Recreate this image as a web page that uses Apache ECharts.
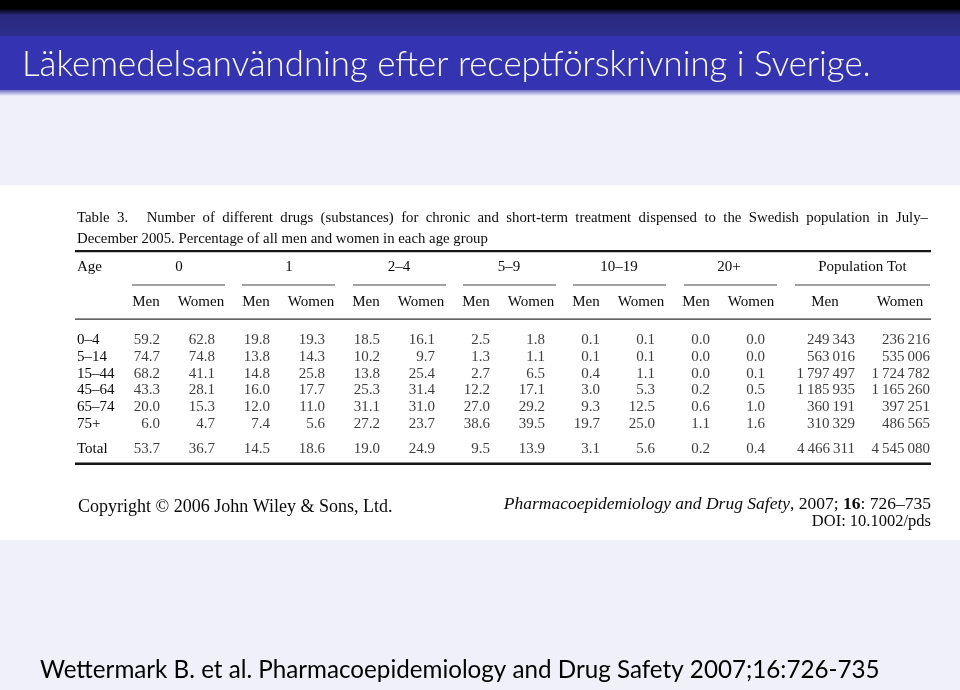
<!DOCTYPE html>
<html>
<head>
<meta charset="utf-8">
<script src="https://cdn.jsdelivr.net/npm/echarts@6/dist/echarts.min.js"></script>
<style>html,body{margin:0;padding:0;background:#f0f0fa}#c{width:960px;height:690px}</style>
</head>
<body>
<div id="c"></div>
<script>
// ---- data ----
const ageGroups = ['0', '1', '2–4', '5–9', '10–19', '20+'];
const sexLabels = ['Men', 'Women'];
const popGroup = ['Population Tot'];
const rowLabels = ['0–4', '5–14', '15–44', '45–64', '65–74', '75+'];
const totalLabel = ['Total'];
const row0_4   = [59.2, 62.8, 19.8, 19.3, 18.5, 16.1, 2.5, 1.8, 0.1, 0.1, 0.0, 0.0];
const row5_14  = [74.7, 74.8, 13.8, 14.3, 10.2, 9.7, 1.3, 1.1, 0.1, 0.1, 0.0, 0.0];
const row15_44 = [68.2, 41.1, 14.8, 25.8, 13.8, 25.4, 2.7, 6.5, 0.4, 1.1, 0.0, 0.1];
const row45_64 = [43.3, 28.1, 16.0, 17.7, 25.3, 31.4, 12.2, 17.1, 3.0, 5.3, 0.2, 0.5];
const row65_74 = [20.0, 15.3, 12.0, 11.0, 31.1, 31.0, 27.0, 29.2, 9.3, 12.5, 0.6, 1.0];
const row75p   = [6.0, 4.7, 7.4, 5.6, 27.2, 23.7, 38.6, 39.5, 19.7, 25.0, 1.1, 1.6];
const rowTotal = [53.7, 36.7, 14.5, 18.6, 19.0, 24.9, 9.5, 13.9, 3.1, 5.6, 0.2, 0.4];
const popMen   = [249343, 563016, 1797497, 1185935, 360191, 310329];
const popWomen = [236216, 535006, 1724782, 1165260, 397251, 486565];
const popTotal = [4466311, 4545080];

// ---- build ----
const pctRows = [row0_4, row5_14, row15_44, row45_64, row65_74, row75p];
const subCols = [];
ageGroups.forEach(() => { subCols.push(sexLabels[0], sexLabels[1]); });
const pctData = [];
pctRows.forEach((r, ri) => r.forEach((v, ci) => pctData.push([ci, ri, v])));
const totData = rowTotal.map((v, ci) => [ci, 0, v]);
const popData = [];
popMen.forEach((v, ri) => popData.push([0, ri, v]));
popWomen.forEach((v, ri) => popData.push([1, ri, v]));
const popTotData = popTotal.map((v, ci) => [ci, 0, v]);
const fmtPop = n => String(n).replace(/\B(?=(\d{3})+(?!\d))/g, '\u2009');

const SERIF = '"Liberation Serif", "DejaVu Serif", serif';
const SANS = 'Lato, "Open Sans", sans-serif';
const INK = '#0a0a0a';

const gA = {left: 118.5, width: 660, top: 331.6, height: 100.8};
const gB = {left: 787.5, width: 150, top: 331.6, height: 100.8};
const gC = {left: 118.5, width: 660, top: 440, height: 18};
const gD = {left: 787.5, width: 150, top: 440, height: 18};

const hidden = {axisLine: {show: false}, axisTick: {show: false}, splitLine: {show: false}};
const lblFont = {fontFamily: SERIF, fontSize: 15, color: INK};

function cellSeries(x, y, data, off, fmt) {
  return {
    type: 'scatter', xAxisIndex: x, yAxisIndex: y, data: data,
    symbolSize: 1, itemStyle: {color: 'rgba(0,0,0,0)'}, silent: true,
    label: {show: true, position: 'inside', align: 'right', verticalAlign: 'middle', offset: [off, 0],
      fontFamily: SERIF, fontSize: 15, color: INK,
      formatter: p => fmt(p.value[2])}
  };
}

const caption1 = 'Table  3.     Number  of  different  drugs  (substances)  for  chronic  and  short-term  treatment  dispensed  to  the  Swedish  population  in  July–';

const option = {
  backgroundColor: '#f0f0fa',
  animation: false,
  grid: [gA, gB, gC, gD],
  xAxis: [
    Object.assign({type: 'category', gridIndex: 0, position: 'top', data: subCols, boundaryGap: true,
      axisLabel: Object.assign({margin: 22, interval: 0}, lblFont)}, hidden),
    Object.assign({type: 'category', gridIndex: 0, position: 'top', offset: 35, data: ageGroups, boundaryGap: true,
      axisLabel: Object.assign({margin: 22, interval: 0, padding: [0, 0, 0, 11]}, lblFont)}, hidden),
    Object.assign({type: 'category', gridIndex: 1, position: 'top', data: sexLabels, boundaryGap: true,
      axisLabel: Object.assign({margin: 22, interval: 0}, lblFont)}, hidden),
    Object.assign({type: 'category', gridIndex: 1, position: 'top', offset: 35, data: popGroup, boundaryGap: true,
      axisLabel: Object.assign({margin: 22, interval: 0}, lblFont)}, hidden),
    Object.assign({type: 'category', gridIndex: 2, data: subCols, boundaryGap: true, axisLabel: {show: false}}, hidden),
    Object.assign({type: 'category', gridIndex: 3, data: sexLabels, boundaryGap: true, axisLabel: {show: false}}, hidden)
  ],
  yAxis: [
    Object.assign({type: 'category', gridIndex: 0, data: rowLabels, inverse: true, boundaryGap: true,
      axisLabel: Object.assign({margin: 41.5, align: 'left', interval: 0}, lblFont)}, hidden),
    Object.assign({type: 'category', gridIndex: 1, data: rowLabels, inverse: true, boundaryGap: true, axisLabel: {show: false}}, hidden),
    Object.assign({type: 'category', gridIndex: 2, data: totalLabel, inverse: true, boundaryGap: true,
      axisLabel: Object.assign({margin: 41.5, align: 'left', interval: 0}, lblFont)}, hidden),
    Object.assign({type: 'category', gridIndex: 3, data: totalLabel, inverse: true, boundaryGap: true, axisLabel: {show: false}}, hidden)
  ],
  series: [
    cellSeries(0, 0, pctData, 14, v => v.toFixed(1)),
    cellSeries(2, 1, popData, 30, fmtPop),
    cellSeries(4, 2, totData, 14, v => v.toFixed(1)),
    cellSeries(5, 3, popTotData, 30, fmtPop)
  ],
  graphic: [
    // title bar
    {type: 'rect', z: 0, shape: {x: 0, y: 0, width: 960, height: 36}, style: {fill: new echarts.graphic.LinearGradient(0, 0, 0, 1, [
      {offset: 0, color: '#000000'}, {offset: 0.24, color: '#000000'}, {offset: 0.42, color: '#29297f'}, {offset: 1, color: '#2e2e8e'}])}},
    {type: 'rect', z: 0, shape: {x: 0, y: 36, width: 960, height: 54}, style: {fill: '#3434b2'}},
    {type: 'rect', z: 0, shape: {x: 0, y: 90, width: 960, height: 6}, style: {fill: new echarts.graphic.LinearGradient(0, 0, 0, 1, [
      {offset: 0, color: '#7070cc'}, {offset: 1, color: '#f0f0fa'}])}},
    {type: 'text', z: 1, style: {x: 22, y: 65, text: 'Läkemedelsanvändning efter receptförskrivning i Sverige.', fill: '#ffffff',
      font: '300 34.8px ' + SANS, verticalAlign: 'middle'}},
    // table image background
    {type: 'rect', z: 0, shape: {x: 0, y: 185, width: 960, height: 355}, style: {fill: '#ffffff'}},
    // caption
    {type: 'text', z: 1, style: {x: 77, y: 218, text: caption1,
      fill: INK, font: '14.8px ' + SERIF, verticalAlign: 'middle'}},
    {type: 'text', z: 1, style: {x: 77, y: 239, text: 'December 2005. Percentage of all men and women in each age group',
      fill: INK, font: '14.8px ' + SERIF, verticalAlign: 'middle'}},
    {type: 'text', z: 1, style: {x: 77, y: 267, text: 'Age', fill: INK, font: '15px ' + SERIF, verticalAlign: 'middle'}},
    // rules
    {type: 'rect', z: 1, shape: {x: 75, y: 250, width: 856, height: 2.2}, style: {fill: '#151515'}},
    {type: 'rect', z: 1, shape: {x: 75, y: 318.5, width: 856, height: 1.2}, style: {fill: '#303030'}},
    {type: 'rect', z: 1, shape: {x: 75, y: 462.5, width: 856, height: 2.4}, style: {fill: '#151515'}},
    {type: 'rect', z: 1, shape: {x: 132, y: 284.5, width: 93, height: 1}, style: {fill: '#444'}},
    {type: 'rect', z: 1, shape: {x: 242, y: 284.5, width: 93, height: 1}, style: {fill: '#444'}},
    {type: 'rect', z: 1, shape: {x: 353, y: 284.5, width: 93, height: 1}, style: {fill: '#444'}},
    {type: 'rect', z: 1, shape: {x: 463, y: 284.5, width: 93, height: 1}, style: {fill: '#444'}},
    {type: 'rect', z: 1, shape: {x: 573, y: 284.5, width: 93, height: 1}, style: {fill: '#444'}},
    {type: 'rect', z: 1, shape: {x: 684, y: 284.5, width: 93, height: 1}, style: {fill: '#444'}},
    {type: 'rect', z: 1, shape: {x: 795, y: 284.5, width: 135, height: 1}, style: {fill: '#444'}},
    // footer of table image
    {type: 'text', z: 1, style: {x: 78, y: 507, text: 'Copyright © 2006 John Wiley & Sons, Ltd.', fill: INK, font: '18px ' + SERIF, verticalAlign: 'middle'}},
    {type: 'text', z: 1, style: {x: 931, y: 504, align: 'right', verticalAlign: 'middle',
      text: '{i|Pharmacoepidemiology and Drug Safety}, 2007; {b|16}: 726–735',
      fill: INK, font: '17.5px ' + SERIF,
      rich: {i: {fontStyle: 'italic', fontFamily: SERIF, fontSize: 17.5, fill: INK}, b: {fontWeight: 'bold', fontFamily: SERIF, fontSize: 17.5, fill: INK}}}},
    {type: 'text', z: 1, style: {x: 931, y: 522, align: 'right', verticalAlign: 'middle', text: 'DOI: 10.1002/pds', fill: INK, font: '16.5px ' + SERIF}},
    // slide footer
    {type: 'text', z: 1, style: {x: 40, y: 670, text: 'Wettermark B. et al. Pharmacoepidemiology and Drug Safety 2007;16:726-735',
      fill: '#000000', font: '24.2px ' + SANS, verticalAlign: 'middle'}}
  ]
};
const chart = echarts.init(document.getElementById('c'), null, {renderer: 'canvas'});
chart.setOption(option);
</script>
</body>
</html>
